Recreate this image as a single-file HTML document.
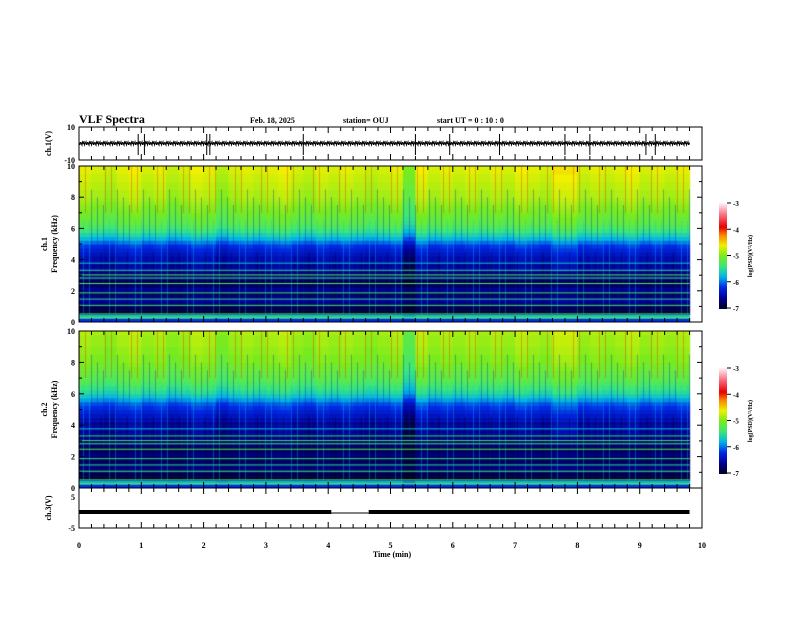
<!DOCTYPE html>
<html><head><meta charset="utf-8">
<style>
body{margin:0;background:#fff;width:792px;height:612px;overflow:hidden;font-family:"Liberation Serif",serif;}
svg text{font-family:"Liberation Serif",serif;font-weight:bold;fill:#000;}
</style></head>
<body>
<svg id="chart" width="792" height="612" viewBox="0 0 792 612">
<text x="79" y="123" font-size="12">VLF Spectra</text>
<text x="250" y="123" font-size="8">Feb. 18, 2025</text>
<text x="343" y="123" font-size="8">station= OUJ</text>
<text x="437" y="123" font-size="8">start  UT =   0 : 10 : 0</text>
<foreignObject x="79" y="166" width="624" height="156"><canvas id="c1" width="624" height="156" xmlns="http://www.w3.org/1999/xhtml"></canvas></foreignObject>
<foreignObject x="79" y="331" width="624" height="157"><canvas id="c2" width="624" height="157" xmlns="http://www.w3.org/1999/xhtml"></canvas></foreignObject>
<foreignObject x="719" y="203" width="8" height="106"><canvas id="cb1" width="8" height="106" xmlns="http://www.w3.org/1999/xhtml"></canvas></foreignObject>
<foreignObject x="719" y="368" width="8" height="106"><canvas id="cb2" width="8" height="106" xmlns="http://www.w3.org/1999/xhtml"></canvas></foreignObject>
<g id="axes"></g>
<text x="392" y="557" font-size="8" text-anchor="middle">Time  (min)</text>
</svg>
<script>
// ---- data ----
const xTicks=[0,1,2,3,4,5,6,7,8,9,10];
const specTicks=[0,2,4,6,8,10];
const cbTicks=[-3,-4,-5,-6,-7];
// frequency profiles (log PSD per 0.25 kHz bin, 0..10 kHz)
const prof1=[-6.2,-5.7,-6.9,-6.9,-6.7,-6.6,-6.7,-6.8,-6.6,-6.8,-6.8,-6.7,-6.7,-6.6,-6.6,-6.5,-6.5,-6.4,-6.3,-6.2,-6.0,-5.8,-5.6,-5.45,-5.3,-5.2,-5.15,-5.1,-5.05,-5.0,-4.95,-4.9,-4.85,-4.85,-4.8,-4.8,-4.75,-4.75,-4.7,-4.7];
const prof2=[-6.2,-5.8,-6.9,-6.9,-6.7,-6.7,-6.8,-6.8,-6.7,-6.8,-6.8,-6.7,-6.7,-6.7,-6.6,-6.6,-6.6,-6.5,-6.4,-6.3,-6.2,-6.1,-5.9,-5.7,-5.55,-5.45,-5.35,-5.25,-5.2,-5.15,-5.1,-5.05,-5.0,-5.0,-4.95,-4.95,-4.9,-4.9,-4.9,-4.85];
// time modulation per 0.2 min bin (0..9.8 min)
const tmod=[0.05,0.0,-0.05,0.05,0.1,0.0,0.05,-0.05,0.0,0.1,0.05,-0.1,0.0,0.05,0.0,0.05,0.1,0.0,-0.05,0.05,0.0,0.05,0.0,-0.05,0.0,0.05,-0.3,0.1,0.0,0.05,0.0,0.05,0.0,0.05,0.0,0.1,0.05,0.0,0.15,0.15,0.0,0.05,0.0,0.05,0.1,0.0,0.05,0.0,0.05];
// VLF transmitter lines (kHz) and levels
const lineFreq=[0.3,0.55,1.1,1.5,1.9,2.5,2.85,3.05,3.35,3.8];
const lineLvl=[-5.0,-5.3,-5.3,-5.5,-5.4,-5.2,-5.4,-5.3,-5.5,-5.7];
const ch1Spikes=[0.95,1.05,2.05,2.1,3.6,5.4,5.95,6.75,7.8,8.2,9.1,9.25];
const ch3Gap=[4.05,4.65];
const dataEnd=9.8;
// ---- geometry ----
const X0=79,X1=702;
const xs=t=>X0+(X1-X0)*t/10;
const NS='http://www.w3.org/2000/svg';
function mk(tag,attrs,parent){const e=document.createElementNS(NS,tag);for(const k in attrs)e.setAttribute(k,attrs[k]);(parent||document.getElementById('axes')).appendChild(e);return e;}
function cmap(v){
 const s=[[-7,[0,0,40]],[-6.6,[0,0,150]],[-6.2,[0,40,230]],[-5.8,[0,180,230]],[-5.4,[60,230,120]],[-5.0,[120,235,30]],[-4.6,[240,240,0]],[-4.2,[250,130,0]],[-3.9,[230,0,0]],[-3.4,[250,120,140]],[-3,[255,240,245]]];
 if(v<=s[0][0])return s[0][1];if(v>=-3)return s[s.length-1][1];
 for(let i=0;i<s.length-1;i++){if(v<=s[i+1][0]){const f=(v-s[i][0])/(s[i+1][0]-s[i][0]);return s[i][1].map((c,j)=>Math.round(c+f*(s[i+1][1][j]-c)));}}
}
function drawSpec(id,prof,H){
 const ctx=document.getElementById(id).getContext('2d');
 const W=X1-X0;ctx.fillStyle='#fff';ctx.fillRect(0,0,W,H);
 const bw=(W/10)*0.2,bh=H/prof.length;
 tmod.forEach((m,ti)=>{prof.forEach((p,fi)=>{
  const c=cmap(p+m*(fi>12?1:0.4));ctx.fillStyle='rgb('+c.join(',')+')';
  ctx.fillRect(ti*bw,H-(fi+1)*bh,bw+0.6,bh+0.6);});});
 // streak texture
 const XE=xs(dataEnd)-X0;
 for(let x=0;x<XE;x+=2){const k=(x*37)%13;
  if(k<2){ctx.fillStyle='rgba(230,40,0,0.35)';ctx.fillRect(x,0,1,H*0.3);}
  else if(k<5){ctx.fillStyle='rgba(0,40,160,0.35)';ctx.fillRect(x,H*(0.05+k*0.05),1,H*0.5);}
  else if(k<7){ctx.fillStyle='rgba(0,200,220,0.35)';ctx.fillRect(x,H*0.35,1,H*0.6);}
  else if(k==8){ctx.fillStyle='rgba(0,0,30,0.35)';ctx.fillRect(x,H*0.55,1,H*0.4);}}
 lineFreq.forEach((f,i)=>{const c=cmap(lineLvl[i]);ctx.fillStyle='rgb('+c.join(',')+')';ctx.fillRect(0,H-f/10*H,XE,1);});
}
drawSpec('c1',prof1,156);drawSpec('c2',prof2,157);
['cb1','cb2'].forEach(id=>{const ctx=document.getElementById(id).getContext('2d');for(let y=0;y<106;y++){const c=cmap(-3-4*y/105);ctx.fillStyle='rgb('+c.join(',')+')';ctx.fillRect(0,y,8,1);}});
const panels=[{n:'ch1',t:127,b:160,ticks:[[10,127],[-10,160]],lab:'ch.1(V)'},{n:'spec1',t:166,b:322},{n:'spec2',t:331,b:488},{n:'ch3',t:488,b:528,ticks:[[5,497],[-5,528]],lab:'ch.3(V)'}];
panels.forEach(p=>{
 const r=mk('rect',{x:X0,y:p.t,width:X1-X0,height:p.b-p.t,fill:'none',stroke:'#000','stroke-width':1});
 
 for(let t=0;t<=10.001;t+=0.2){const x=xs(t),L=(Math.abs(t-Math.round(t))<0.01)?6:4;
  mk('line',{x1:x,x2:x,y1:p.b,y2:p.b-L,stroke:'#000'});mk('line',{x1:x,x2:x,y1:p.t,y2:p.t+L,stroke:'#000'});}
 if(p.ticks){p.ticks.forEach(tk=>{const tx=mk('text',{x:X0-4,y:tk[1]+3,'font-size':8,'text-anchor':'end'});tx.textContent=tk[0];
  });
  const yl=mk('text',{transform:`translate(51,${(p.t+p.b)/2}) rotate(-90)`,'font-size':8,'text-anchor':'middle'});yl.textContent=p.lab;
  }
});
[[166,322,'ch.1'],[331,488,'ch.2']].forEach(([t,b,lab],k)=>{
 specTicks.forEach(v=>{const y=b-(b-t)*v/10;mk('line',{x1:X0,x2:X0+5,y1:y,y2:y,stroke:'#000'});mk('line',{x1:X1,x2:X1-5,y1:y,y2:y,stroke:'#000'});
  const tx=mk('text',{x:X0-4,y:y+3,'font-size':8,'text-anchor':'end'});tx.textContent=v;
  });
 for(let v=1;v<10;v+=2){const y=b-(b-t)*v/10;mk('line',{x1:X0,x2:X0+3,y1:y,y2:y,stroke:'#000'});mk('line',{x1:X1,x2:X1-3,y1:y,y2:y,stroke:'#000'});}
 const a=mk('text',{transform:`translate(47,${(t+b)/2}) rotate(-90)`,'font-size':8,'text-anchor':'middle'});a.textContent=lab;
 
 const c=mk('text',{transform:`translate(57,${(t+b)/2}) rotate(-90)`,'font-size':8,'text-anchor':'middle'});c.textContent='Frequency  (kHz)';
 
 const cy0=[203,368][k];
 cbTicks.forEach((v,i)=>{const y=cy0+105*i/4;mk('line',{x1:727,x2:731,y1:y,y2:y,stroke:'#000'});
  const tx=mk('text',{x:733,y:y+3,'font-size':7});tx.textContent=v;
  });
 const ct=mk('text',{transform:`translate(752,${cy0+53}) rotate(-90)`,'font-size':6,'text-anchor':'middle'});ct.textContent='log(PSD)(V\u00B2/Hz)';
 
});
xTicks.forEach(v=>{const tx=mk('text',{x:xs(v),y:548,'font-size':8,'text-anchor':'middle'});tx.textContent=v;
 });
let d='M'+X0+' 143';
for(let x=X0;x<=xs(dataEnd);x+=1){const k=(x*53)%7;d+=' L'+x+' '+(141+k*0.7)+' L'+(x+0.5)+' '+(145-k*0.5);}
const w=mk('path',{d:d,stroke:'#000','stroke-width':1,fill:'none'});

ch1Spikes.forEach(t=>{const s=mk('line',{x1:xs(t),x2:xs(t),y1:134,y2:155,stroke:'#000'});
 });
[[0,ch3Gap[0]],[ch3Gap[1],dataEnd]].forEach(s=>{const r=mk('rect',{x:xs(s[0]),y:510,width:xs(s[1])-xs(s[0]),height:4,fill:'#000'});
 });
const g=mk('line',{x1:xs(ch3Gap[0]),x2:xs(ch3Gap[1]),y1:513,y2:513,stroke:'#000'});

</script>
</body></html>
